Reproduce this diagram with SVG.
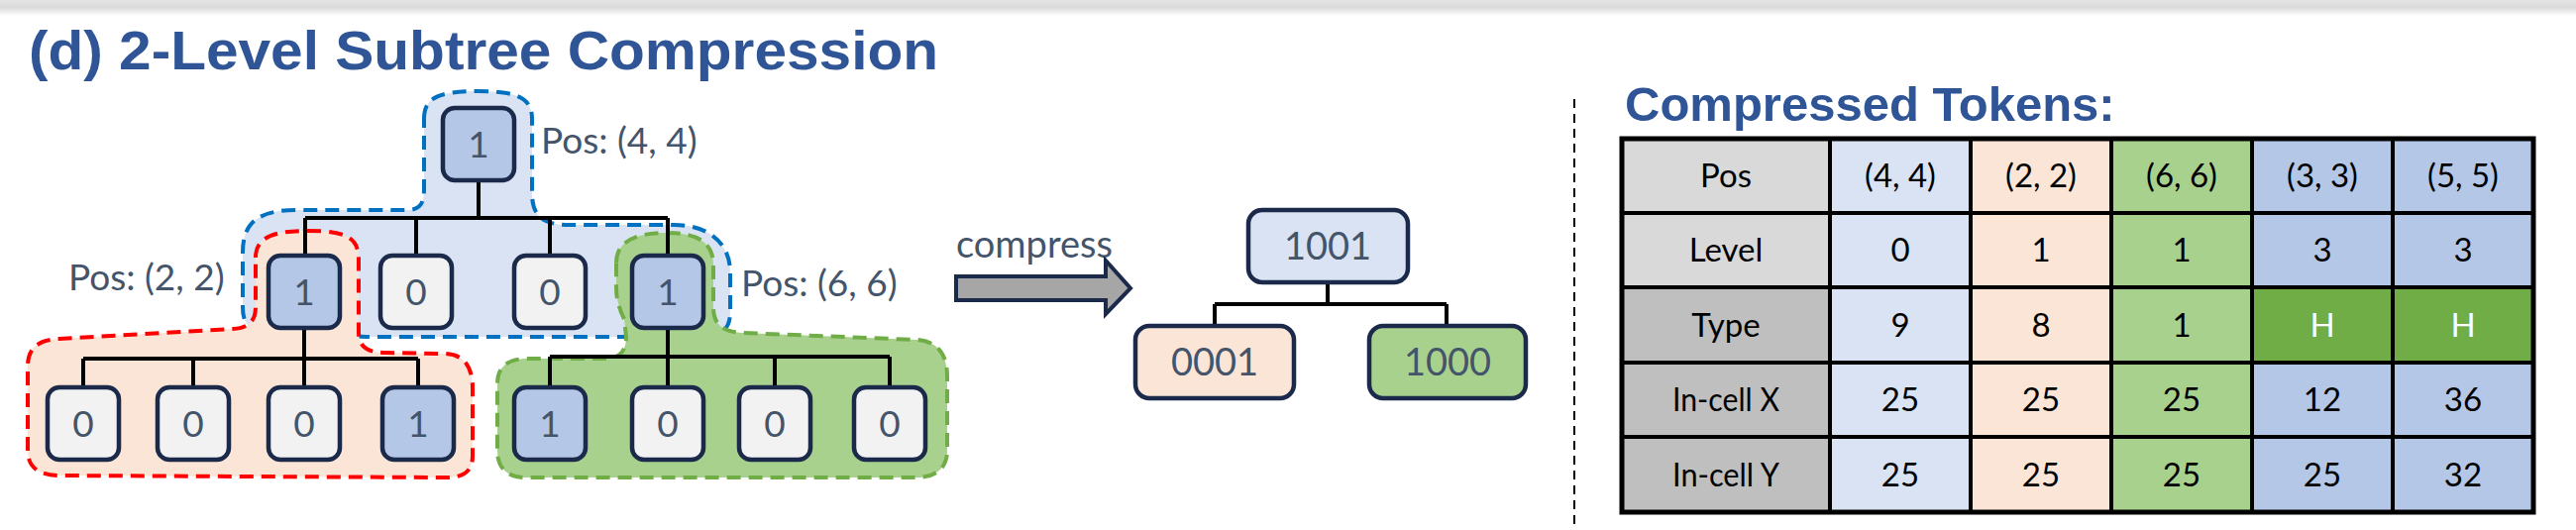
<svg xmlns="http://www.w3.org/2000/svg" width="2600" height="535" viewBox="0 0 2600 535">
<defs>
<linearGradient id="shadow" x1="0" y1="0" x2="0" y2="1">
<stop offset="0" stop-color="#e4e4e4"/>
<stop offset="0.45" stop-color="#dadada"/>
<stop offset="1" stop-color="#ffffff"/>
</linearGradient>
</defs>
<style>
.title{font-family:"Liberation Sans",Arial,sans-serif;font-weight:bold;fill:#2F5597}
.lbl{font-family:Lato,"Open Sans",sans-serif;fill:#44546A}
.nd{stroke:#1B2A4A;stroke-width:4.5}
.one{fill:#B4C7E7}
.zero{fill:#F2F2F2}
.ntxt{font-family:Lato,"Open Sans",sans-serif;font-size:37px;fill:#44546A;text-anchor:middle}
.ctxt{font-family:Lato,"Open Sans",sans-serif;font-size:38px;fill:#44546A;text-anchor:middle}
.conn{stroke:#000;stroke-width:4;fill:none}
.tt{font-family:Lato,"Open Sans",sans-serif;font-size:33px;fill:#000;text-anchor:middle}
.wt{fill:#fff}
.grid{stroke:#000;stroke-width:4;fill:none}
</style>
<rect x="0" y="0" width="2600" height="16" fill="url(#shadow)"/>
<text class="title" x="29" y="70" font-size="55" textLength="918" lengthAdjust="spacingAndGlyphs">(d) 2-Level Subtree Compression</text>

<g id="groups">
<path id="blob-blue" d="M428,120 C428,100 440,92 482,92 C524,92 537,100 537,120 L537,195 C537,220 550,227 575,227 L680,227 C715,227 737,245 737,275 L737,315 C737,335 725,340 705,340 L370,340 L270,335 C250,335 245,325 245,310 L245,255 C245,225 260,212 300,212 L410,212 C425,212 428,205 428,190 Z" fill="#DAE3F3" stroke="#0070C0" stroke-width="4" stroke-dasharray="14 8"/>
<path id="blob-red" d="M258,260 C258,240 275,233 310,233 C350,233 362,240 362,262 L362,335 C362,350 370,356 390,356 L448,357 C468,357 477,370 477,392 L477,460 C477,476 468,482 450,482 L60,480 C40,480 28,472 28,455 L28,370 C28,350 40,343 60,342 L235,332 C250,331 258,325 258,310 Z" fill="#FBE5D6" stroke="#FF0000" stroke-width="4" stroke-dasharray="14 8"/>
<path id="blob-green" d="M622,265 C622,245 640,235 672,235 C705,235 720,245 720,268 L720,310 C720,328 730,335 750,336 L925,343 C945,344 956,356 956,380 L956,455 C956,472 945,482 925,482 L530,482 C512,482 502,472 502,455 L502,388 C502,370 512,363 530,362 L610,362 C625,362 632,355 632,340 L630,322 C624,310 622,300 622,290 Z" fill="#A9D18E" stroke="#70AD47" stroke-width="4" stroke-dasharray="14 8"/>
</g>

<g id="connectors">
<path class="conn" d="M483,182 V220 M308,220 H674 M308,220 V258 M420,220 V258 M555,220 V258 M674,220 V258"/>
<path class="conn" d="M307,331 V362 M84,362 H422 M84,362 V391 M195,362 V391 M307,362 V391 M422,362 V391"/>
<path class="conn" d="M674,331 V360 M555,360 H898 M555,360 V391 M674,360 V391 M782,360 V391 M898,360 V391"/>
<path class="conn" d="M1340,285 V307 M1226,307 H1460 M1226,307 V329 M1460,307 V329"/>
</g>

<g id="n-root"><rect class="nd one" x="447" y="109" width="72" height="73" rx="12"/><text class="ntxt" x="483" y="159">1</text></g>
<g id="n-l2-1"><rect class="nd one" x="271" y="258" width="72" height="73" rx="12"/><text class="ntxt" x="307" y="308">1</text></g>
<g id="n-l2-2"><rect class="nd zero" x="384" y="258" width="72" height="73" rx="12" stroke="#000"/><text class="ntxt" x="420" y="308">0</text></g>
<g id="n-l2-3"><rect class="nd zero" x="519" y="258" width="72" height="73" rx="12"/><text class="ntxt" x="555" y="308">0</text></g>
<g id="n-l2-4"><rect class="nd one" x="638" y="258" width="72" height="73" rx="12"/><text class="ntxt" x="674" y="308">1</text></g>

<g id="n-a1"><rect class="nd zero" x="48" y="391" width="72" height="73" rx="12"/><text class="ntxt" x="84" y="441">0</text></g>
<g id="n-a2"><rect class="nd zero" x="159" y="391" width="72" height="73" rx="12"/><text class="ntxt" x="195" y="441">0</text></g>
<g id="n-a3"><rect class="nd zero" x="271" y="391" width="72" height="73" rx="12"/><text class="ntxt" x="307" y="441">0</text></g>
<g id="n-a4"><rect class="nd one" x="386" y="391" width="72" height="73" rx="12"/><text class="ntxt" x="422" y="441">1</text></g>

<g id="n-b1"><rect class="nd one" x="519" y="391" width="72" height="73" rx="12"/><text class="ntxt" x="555" y="441">1</text></g>
<g id="n-b2"><rect class="nd zero" x="638" y="391" width="72" height="73" rx="12"/><text class="ntxt" x="674" y="441">0</text></g>
<g id="n-b3"><rect class="nd zero" x="746" y="391" width="72" height="73" rx="12"/><text class="ntxt" x="782" y="441">0</text></g>
<g id="n-b4"><rect class="nd zero" x="862" y="391" width="72" height="73" rx="12"/><text class="ntxt" x="898" y="441">0</text></g>

<g id="pos-labels">
<text class="lbl" x="546" y="155" font-size="37">Pos: (4, 4)</text>
<text class="lbl" x="69" y="293" font-size="37">Pos: (2, 2)</text>
<text class="lbl" x="748" y="299" font-size="37">Pos: (6, 6)</text>
</g>

<g id="compress-arrow">
<text class="lbl" x="965" y="260" font-size="38">compress</text>
<polygon points="965,279 1116,279 1116,263 1141,291 1116,317 1116,303 965,303" fill="#A6A6A6" stroke="#1B2A4A" stroke-width="4" stroke-linejoin="miter"/>
</g>

<g id="c-root"><rect class="nd" x="1260" y="212" width="161" height="73" rx="14" fill="#DAE3F3"/><text class="ctxt" x="1340" y="262">1001</text></g>
<g id="c-left"><rect class="nd" x="1146" y="329" width="160" height="73" rx="14" fill="#FBE5D6"/><text class="ctxt" x="1226" y="379">0001</text></g>
<g id="c-right"><rect class="nd" x="1382" y="329" width="158" height="73" rx="14" fill="#A9D18E"/><text class="ctxt" x="1461" y="379">1000</text></g>

<line x1="1589" y1="100" x2="1589" y2="530" stroke="#000" stroke-width="2" stroke-dasharray="9 6"/>

<g id="table">
<text class="title" x="1640" y="122" font-size="49">Compressed Tokens:</text>
<g id="cells">
<rect x="1637" y="140" width="210" height="150" fill="#D9D9D9"/>
<rect x="1637" y="290" width="210" height="227" fill="#BFBFBF"/>
<rect x="1847" y="140" width="142" height="377" fill="#DAE3F3"/>
<rect x="1989" y="140" width="142" height="377" fill="#FBE5D6"/>
<rect x="2131" y="140" width="142" height="377" fill="#A9D18E"/>
<rect x="2273" y="140" width="284" height="377" fill="#B4C7E7"/>
<rect x="2273" y="290" width="284" height="76" fill="#70AD47"/>
</g>
<path class="grid" d="M1847,140 V517 M1989,140 V517 M2131,140 V517 M2273,140 V517 M2415,140 V517 M1637,215 H2557 M1637,290 H2557 M1637,366 H2557 M1637,441 H2557"/>
<rect x="1637" y="140" width="920" height="377" fill="none" stroke="#000" stroke-width="5"/>
<g id="row-pos">
<text class="tt" x="1742" y="189">Pos</text><text class="tt" x="1918" y="189">(4, 4)</text><text class="tt" x="2060" y="189">(2, 2)</text><text class="tt" x="2202" y="189">(6, 6)</text><text class="tt" x="2344" y="189">(3, 3)</text><text class="tt" x="2486" y="189">(5, 5)</text>
</g>
<g id="row-level">
<text class="tt" x="1742" y="264">Level</text><text class="tt" x="1918" y="264">0</text><text class="tt" x="2060" y="264">1</text><text class="tt" x="2202" y="264">1</text><text class="tt" x="2344" y="264">3</text><text class="tt" x="2486" y="264">3</text>
</g>
<g id="row-type">
<text class="tt" x="1742" y="340">Type</text><text class="tt" x="1918" y="340">9</text><text class="tt" x="2060" y="340">8</text><text class="tt" x="2202" y="340">1</text><text class="tt wt" x="2344" y="340">H</text><text class="tt wt" x="2486" y="340">H</text>
</g>
<g id="row-x">
<text class="tt" x="1742" y="415" textLength="108" lengthAdjust="spacingAndGlyphs">In-cell X</text><text class="tt" x="1918" y="415">25</text><text class="tt" x="2060" y="415">25</text><text class="tt" x="2202" y="415">25</text><text class="tt" x="2344" y="415">12</text><text class="tt" x="2486" y="415">36</text>
</g>
<g id="row-y">
<text class="tt" x="1742" y="491" textLength="108" lengthAdjust="spacingAndGlyphs">In-cell Y</text><text class="tt" x="1918" y="491">25</text><text class="tt" x="2060" y="491">25</text><text class="tt" x="2202" y="491">25</text><text class="tt" x="2344" y="491">25</text><text class="tt" x="2486" y="491">32</text>
</g>
</g>
</svg>
